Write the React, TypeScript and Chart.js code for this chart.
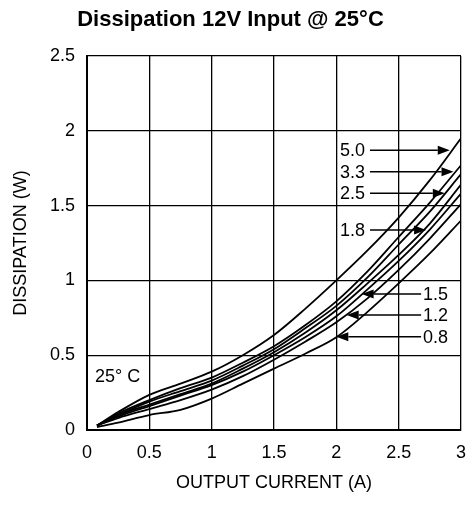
import React, { useEffect, useRef } from "react";
import { Chart, registerables } from "chart.js";

Chart.register(...registerables);

// Output current (A)
const CURRENT = [0.08, 0.25, 0.5, 0.75, 1.0, 1.25, 1.5, 1.75, 2.0, 2.25, 2.5, 2.75, 3.0];
// Dissipation (W) for each output voltage
const V5_0 = [0.03, 0.12, 0.235, 0.31, 0.39, 0.5, 0.635, 0.81, 1.0, 1.2, 1.42, 1.67, 1.95];
const V3_3 = [0.03, 0.11, 0.2, 0.28, 0.35, 0.45, 0.56, 0.7, 0.86, 1.06, 1.29, 1.52, 1.77];
const V2_5 = [0.03, 0.1, 0.19, 0.26, 0.33, 0.43, 0.54, 0.68, 0.83, 1.02, 1.24, 1.46, 1.71];
const V1_8 = [0.03, 0.1, 0.17, 0.24, 0.31, 0.41, 0.52, 0.65, 0.8, 0.98, 1.17, 1.38, 1.64];
const V1_5 = [0.03, 0.09, 0.16, 0.23, 0.3, 0.39, 0.5, 0.62, 0.76, 0.94, 1.13, 1.34, 1.58];
const V1_2 = [0.03, 0.08, 0.14, 0.2, 0.27, 0.36, 0.47, 0.59, 0.72, 0.88, 1.07, 1.28, 1.51];
const V0_8 = [0.02, 0.05, 0.1, 0.135, 0.21, 0.31, 0.41, 0.51, 0.62, 0.79, 0.98, 1.18, 1.4];

const SERIES_LABELS = ["5.0", "3.3", "2.5", "1.8", "1.5", "1.2", "0.8"];
const SERIES_VALUES = [V5_0, V3_3, V2_5, V1_8, V1_5, V1_2, V0_8];

const X_TICKS = [0, 0.5, 1, 1.5, 2, 2.5, 3];
const Y_TICKS = [0, 0.5, 1, 1.5, 2, 2.5];

const TITLE = "Dissipation 12V Input @ 25°C";
const X_TITLE = "OUTPUT CURRENT (A)";
const Y_TITLE = "DISSIPATION (W)";
const TEMP_LABEL = "25° C";

// Callout labels, in data coordinates: text x, y, line start x, arrow tip x
const CALLOUT_LABELS = ["5.0", "3.3", "2.5", "1.8", "1.5", "1.2", "0.8"];
const CALLOUT_TEXT_X = [2.03, 2.03, 2.03, 2.03, 2.695, 2.695, 2.695];
const CALLOUT_Y = [1.87, 1.727, 1.582, 1.337, 0.909, 0.769, 0.624];
const CALLOUT_FROM_X = [2.27, 2.27, 2.27, 2.27, 2.68, 2.68, 2.68];
const CALLOUT_TIP_X = [2.91, 2.94, 2.87, 2.72, 2.203, 2.083, 2.0];

const FONT = "'Liberation Sans', Arial, Helvetica, sans-serif";

const calloutPlugin = {
  id: "callouts",
  afterDatasetsDraw(chart: any) {
    const { ctx, scales } = chart;
    const xs = scales.x;
    const ys = scales.y;
    ctx.save();
    ctx.fillStyle = "#000";
    ctx.strokeStyle = "#000";
    ctx.lineWidth = 1.5;
    ctx.font = `18px ${FONT}`;
    ctx.textBaseline = "middle";
    ctx.textAlign = "left";
    for (let i = 0; i < CALLOUT_LABELS.length; i++) {
      const y = ys.getPixelForValue(CALLOUT_Y[i]);
      const tx = xs.getPixelForValue(CALLOUT_TEXT_X[i]);
      const fx = xs.getPixelForValue(CALLOUT_FROM_X[i]);
      const px = xs.getPixelForValue(CALLOUT_TIP_X[i]);
      ctx.fillText(CALLOUT_LABELS[i], tx, y + 1);
      const dir = px > fx ? 1 : -1;
      const len = 12;
      ctx.beginPath();
      ctx.moveTo(fx, y);
      ctx.lineTo(px - dir * len, y);
      ctx.stroke();
      ctx.beginPath();
      ctx.moveTo(px, y);
      ctx.lineTo(px - dir * len, y - 4.5);
      ctx.lineTo(px - dir * len, y + 4.5);
      ctx.closePath();
      ctx.fill();
    }
    ctx.fillText(TEMP_LABEL, xs.getPixelForValue(0.064), ys.getPixelForValue(0.356));
    ctx.restore();
  },
};

export default function App() {
  const canvasRef = useRef<HTMLCanvasElement | null>(null);

  useEffect(() => {
    if (!canvasRef.current) return;
    Chart.defaults.font.family = FONT;
    Chart.defaults.color = "#000";
    const datasets = SERIES_LABELS.map((label, i) => ({
      label,
      data: CURRENT.map((x, j) => ({ x, y: SERIES_VALUES[i][j] })),
      borderColor: "#000",
      backgroundColor: "#000",
      borderWidth: 1.8,
      pointRadius: 0,
      tension: 0.4,
      cubicInterpolationMode: "monotone" as const,
      fill: false,
    }));
    const chart = new Chart(canvasRef.current, {
      type: "line",
      data: { datasets },
      plugins: [calloutPlugin],
      options: {
        animation: false,
        responsive: false,
        devicePixelRatio: 1,
        layout: { padding: { left: 0, right: 5, top: 0, bottom: 0 } },
        plugins: {
          legend: { display: false },
          tooltip: { enabled: false },
          title: {
            display: true,
            text: TITLE,
            color: "#000",
            font: { size: 22, weight: "bold", family: FONT },
            padding: { top: 6.8, bottom: 22.8 },
          },
        },
        scales: {
          x: {
            type: "linear",
            min: 0,
            max: 3,
            afterBuildTicks: (s: any) => {
              s.ticks = X_TICKS.map((v) => ({ value: v }));
            },
            afterFit: (s: any) => {
              s.height = 76;
              s.paddingLeft = 0;
              s.paddingRight = 0;
            },
            ticks: {
              color: "#000",
              font: { size: 18 },
              padding: 12,
              maxRotation: 0,
              callback: (v: any) => String(v),
            },
            grid: { color: "#000", lineWidth: 1.3, drawTicks: false },
            border: { color: "#000", width: 2 },
            title: {
              display: true,
              text: X_TITLE,
              color: "#000",
              font: { size: 18 },
              padding: { top: 0, bottom: 12.5 },
            },
          },
          y: {
            type: "linear",
            min: 0,
            max: 2.5,
            afterBuildTicks: (s: any) => {
              s.ticks = Y_TICKS.map((v) => ({ value: v }));
            },
            afterFit: (s: any) => {
              s.width = 87;
            },
            ticks: {
              color: "#000",
              font: { size: 18 },
              padding: 12,
              callback: (v: any) => String(v),
            },
            grid: { color: "#000", lineWidth: 1.3, drawTicks: false },
            border: { color: "#000", width: 2 },
            title: {
              display: true,
              text: Y_TITLE,
              color: "#000",
              font: { size: 18 },
              padding: { top: 10, bottom: 0 },
            },
          },
        },
      },
    });
    return () => chart.destroy();
  }, []);

  return (
    <div style={{ position: "fixed", left: 0, top: 0, width: 466, height: 506, background: "#fff" }}>
      <canvas ref={canvasRef} width={466} height={506} style={{ display: "block" }} />
    </div>
  );
}
